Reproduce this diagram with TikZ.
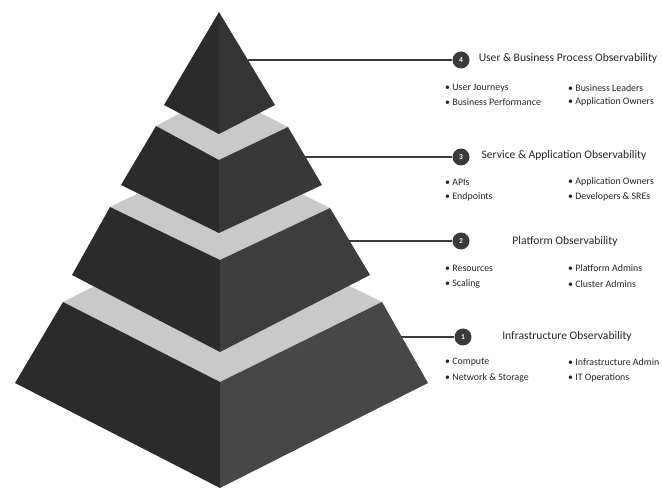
\documentclass[tikz,border=0pt]{standalone}
\usepackage{fontspec}
\setmainfont{Carlito}
\definecolor{bandgray}{HTML}{C9C9C9}
\definecolor{leftgray}{HTML}{2B2B2B}
\definecolor{right1}{HTML}{343434}
\definecolor{right2}{HTML}{383838}
\definecolor{right3}{HTML}{3D3D3D}
\definecolor{right4}{HTML}{474747}
\definecolor{linegray}{HTML}{3A3A3A}
\definecolor{txtgray}{HTML}{262626}
\begin{document}
\begin{tikzpicture}[x=1pt,y=-1pt,
  topface/.style={fill=bandgray},
  leftface/.style={fill=leftgray},
  rightface/.style={fill=#1},
  conn/.style={draw=linegray,line width=1.3pt},
  numcirc/.style={circle,fill=linegray,minimum size=17pt,inner sep=0pt,text=white,font=\fontsize{7.5}{8}\selectfont\bfseries},
  ttl/.style={text=txtgray,font=\fontsize{11.6}{13}\selectfont,anchor=center,inner sep=0pt},
  itm/.style={text=txtgray,font=\fontsize{9.9}{11}\selectfont,anchor=west,inner sep=0pt}]
\useasboundingbox (0,0) rectangle (662,489);
% tier 4 (bottom)
\fill[topface] (63,302) -- (220,222) -- (382,302) -- (220,382) -- cycle;
\fill[leftface] (63,302) -- (220,382) -- (220,488) -- (15,383) -- cycle;
\fill[rightface=right4] (220,382) -- (382,302) -- (428,383) -- (220,488) -- cycle;
% tier 3
\fill[topface] (110,207) -- (220,154) -- (330,208) -- (220,260) -- cycle;
\fill[leftface] (110,207) -- (220,260) -- (220,352) -- (72,275) -- cycle;
\fill[rightface=right3] (220,260) -- (330,208) -- (370,275) -- (220,352) -- cycle;
% tier 2
\fill[topface] (156,126) -- (219,92) -- (288,127) -- (219,160) -- cycle;
\fill[leftface] (156,126) -- (219,160) -- (219,233) -- (121,185) -- cycle;
\fill[rightface=right2] (219,160) -- (288,127) -- (322,185) -- (219,233) -- cycle;
% tier 1 (apex)
\fill[leftface] (219,12) -- (164,105) -- (219,134) -- cycle;
\fill[rightface=right1] (219,12) -- (219,134) -- (275,105) -- cycle;

% connector start points on the pyramid edges
\coordinate (e4) at (248,60);
\coordinate (e3) at (305,157);
\coordinate (e2) at (349,241);
\coordinate (e1) at (401,337);

% number circles
\node[numcirc] (c4) at (461,60) {4};
\node[numcirc] (c3) at (461,157) {3};
\node[numcirc] (c2) at (461,241) {2};
\node[numcirc] (c1) at (463,337) {1};

\draw[conn] (e4) -- (c4);
\draw[conn] (e3) -- (c3);
\draw[conn] (e2) -- (c2);
\draw[conn] (e1) -- (c1);

% titles
\node[ttl] (t4) at (568,58) {User \& Business Process Observability};
\node[ttl] (t3) at (564,155) {Service \& Application Observability};
\node[ttl] (t2) at (565,241) {Platform Observability};
\node[ttl] (t1) at (567,336) {Infrastructure Observability};

% items
\node[itm] (a4) at (445,88) {• User Journeys};
\node[itm] (b4) at (445,102) {• Business Performance};
\node[itm] (p4) at (568,88) {• Business Leaders};
\node[itm] (q4) at (568,102) {• Application Owners};

\node[itm] (a3) at (445,182) {• APIs};
\node[itm] (b3) at (445,197) {• Endpoints};
\node[itm] (p3) at (568,182) {• Application Owners};
\node[itm] (q3) at (568,197) {• Developers \& SREs};

\node[itm] (a2) at (445,268) {• Resources};
\node[itm] (b2) at (445,284) {• Scaling};
\node[itm] (p2) at (568,268) {• Platform Admins};
\node[itm] (q2) at (568,284) {• Cluster Admins};

\node[itm] (a1) at (445,362) {• Compute};
\node[itm] (b1) at (445,378) {• Network \& Storage};
\node[itm] (p1) at (568,362) {• Infrastructure Admin};
\node[itm] (q1) at (568,378) {• IT Operations};
\end{tikzpicture}
\end{document}
